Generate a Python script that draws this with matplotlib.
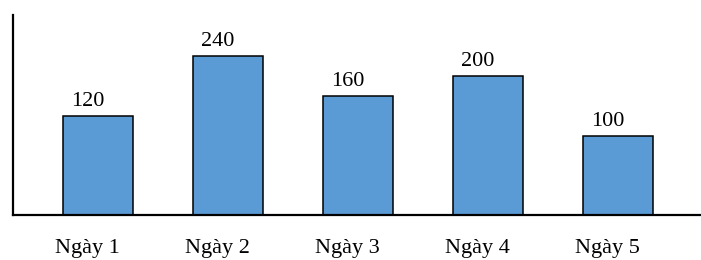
import matplotlib
matplotlib.use("Agg")
import matplotlib.pyplot as plt

categories = ["Ngày 1", "Ngày 2", "Ngày 3", "Ngày 4", "Ngày 5"]
value_labels = [120, 240, 160, 200, 100]
# bar heights as drawn in the reference (not proportional to the labels)
bar_heights = [99.5, 159.5, 119.5, 139.5, 79.5]

plt.rcParams['font.family'] = ['Liberation Serif', 'DejaVu Serif']

fig = plt.figure(figsize=(7.01, 2.60), dpi=100)
ax = fig.add_axes([13 / 701, 45 / 260, 688 / 701, 200 / 260])

x = list(range(len(categories)))
ax.bar(x, bar_heights, width=0.54, color="#5B9BD5",
       edgecolor="black", linewidth=1.1)

ax.set_ylim(0, 200)
ax.set_xlim(-0.656, 4.636)

for s in ["top", "right"]:
    ax.spines[s].set_visible(False)
for s in ["left", "bottom"]:
    ax.spines[s].set_linewidth(1.6)
ax.set_xticks([])
ax.set_yticks([])

for xi, h, v, c in zip(x, bar_heights, value_labels, categories):
    ax.annotate(str(v), xy=(xi, h), xytext=(-7.9, 6.5), textcoords="offset points",
                ha="center", va="baseline", fontsize=16)
    ax.annotate(c, xy=(xi, 0), xycoords=("data", "axes fraction"),
                xytext=(-7.9, -27.4), textcoords="offset points",
                ha="center", va="baseline", fontsize=16)

fig.savefig("out.png", dpi=100)
